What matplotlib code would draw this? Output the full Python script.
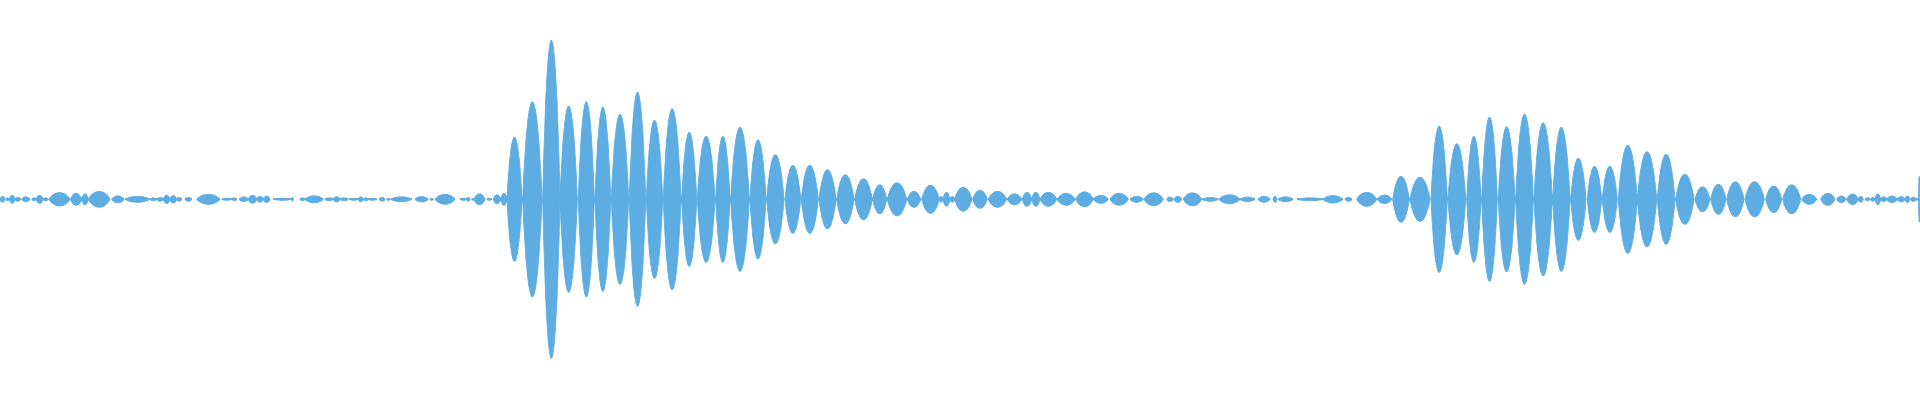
import matplotlib
matplotlib.use("Agg")
import matplotlib.pyplot as plt
from matplotlib.path import Path
from matplotlib.patches import PathPatch

# Waveform described as a sequence of lobes (start, end, peak amplitude)
lobe_start = [
    0, 6, 9.3, 15, 21.7, 31.7, 36, 43.3, 49, 70.5, 81.7, 88.3, 111.7, 125, 150,
    156.7, 163.3, 170, 176.7, 185, 196.7, 221.7, 232, 239.3, 248.3, 256.7, 263.3,
    273.3, 291.7, 300, 305, 325, 333.3, 340, 349.3, 358.3, 363.3, 368.3, 379.3,
    386.7, 390.7, 415, 430, 435, 460, 466.7, 471.7, 474, 486.7, 493.3, 500.7, 507,
    522.7, 542.7, 560, 578.3, 595, 611.3, 629.3, 646.3, 663.3, 681.7, 697.3, 715.7,
    730.7, 750, 766.7, 785, 801.3, 819, 836.7, 854.7, 872.7, 887.3, 907.3, 921.7,
    939.3, 943, 950, 954.5, 972.7, 988.3, 1007.3, 1022.3, 1031.7, 1040, 1057.3,
    1075.7, 1093.3, 1110, 1130, 1144, 1166.7, 1174, 1183.3, 1202.3, 1219, 1240,
    1258, 1273, 1278, 1297, 1323, 1345, 1356.7, 1377.3, 1392.7, 1410, 1431, 1448,
    1466.7, 1481.7, 1498.3, 1515.7, 1534, 1552.7, 1570.7, 1587.3, 1602.3, 1618.3,
    1637.3, 1657.3, 1675.7, 1695, 1710.7, 1726.7, 1745, 1765.7, 1782.7, 1801.7,
    1820.7, 1836.7, 1846.7, 1858.3, 1865, 1870.7, 1875, 1880.7, 1886.7, 1897.3,
    1905, 1910.7, 1916, 1918.5,
]
lobe_end = [
    5, 9, 15, 20.7, 30, 36, 43.3, 48.3, 70, 81.7, 88.3, 110, 124, 150, 156.7,
    163.3, 170, 176.7, 181.7, 191.7, 220, 231.7, 236.7, 248.3, 256.7, 263.3, 270,
    291.7, 293.3, 305, 323.3, 333.3, 340, 348.3, 358.3, 363.3, 368.3, 376.7, 385,
    390, 411.7, 428.3, 433.3, 455, 466.7, 470, 474, 485, 491.7, 500.7, 507, 522,
    542, 560, 577.3, 594.3, 610.7, 628.7, 645.7, 662.7, 681, 696.7, 715, 730,
    749.3, 766, 784, 800.7, 818.3, 836, 854, 872.3, 886.7, 906.7, 920.7, 939.3,
    943, 950, 954.5, 972, 987.3, 1006.7, 1021.7, 1031.7, 1040, 1056.7, 1075,
    1093.3, 1108.3, 1128.3, 1143.3, 1163.3, 1173.3, 1181.7, 1201.7, 1218.3, 1240, 1255,
    1270, 1277, 1293, 1323, 1343, 1352, 1376.7, 1391.7, 1409.3, 1430, 1447.3, 1465.7,
    1481, 1497.3, 1515, 1533.3, 1552.3, 1570, 1586, 1601.7, 1617.3, 1637.3,
    1656.7, 1675, 1694, 1710, 1726, 1744, 1764.3, 1781.7, 1800.7, 1816.7,
    1835, 1846, 1858.3, 1863.3, 1870, 1875, 1880.7, 1886.7, 1897.3, 1905,
    1910, 1916, 1918, 1920,
]
lobe_amp = [
    3, 1.5, 4, 2, 2.5, 1.5, 4, 1.5, 6.7, 6, 5.5, 8, 3.5, 3, 1.5,
    2, 4.3, 3.7, 2, 2, 5, 1, 1.5, 2.5, 4, 3, 3.3,
    1, 2, 1.5, 3.5, 1.5, 2.7, 1.5, 1, 2.5, 1.5, 1, 2,
    1, 2.5, 2.7, 1, 5, 1, 2, 1, 5.5, 1, 4.5, 6, 62,
    97.5, 159, 93, 97.5, 92, 85, 107, 79, 90.5, 67, 63, 63,
    72, 59.5, 44.5, 34, 34, 29.5, 24.5, 20.5, 14.5, 16.5, 8, 14,
    3, 7, 3, 12, 9, 8, 5.5, 7, 7, 7, 6,
    7.5, 4, 6, 3, 6.5, 2.3, 3, 6.5, 2, 4.5, 2.3,
    3, 3, 2.5, 1.5, 3.7, 2, 7, 4.3, 23, 22, 73, 55.5,
    63, 82, 72.5, 85, 76.5, 72, 41, 33, 33, 54,
    47.5, 45, 25, 12.5, 15, 17.5, 17.5, 13.3, 14.5, 5,
    6, 3.3, 5.3, 3, 1.5, 2, 5.3, 2.5, 3.3, 2.7,
    3.3, 2.3, 1, 23.5,
]

COLOR = "#5DADE2"

fig = plt.figure(figsize=(19.2, 4), dpi=100)
ax = fig.add_axes([0, 0, 1, 1])

verts, codes = [], []
k = 0.27
for x0, x1, a in zip(lobe_start, lobe_end, lobe_amp):
    d = x1 - x0
    h = a * 4.0 / 3.0
    verts += [(x0, 0), (x0 + k * d, h), (x1 - k * d, h), (x1, 0),
              (x1 - k * d, -h), (x0 + k * d, -h), (x0, 0), (x0, 0)]
    codes += [Path.MOVETO, Path.CURVE4, Path.CURVE4, Path.CURVE4,
              Path.CURVE4, Path.CURVE4, Path.CURVE4, Path.CLOSEPOLY]

patch = PathPatch(Path(verts, codes), facecolor=COLOR, edgecolor=COLOR,
                  linewidth=0.6)
ax.add_patch(patch)
# thin centre line under each lobe so touching lobes join up
ax.hlines([0] * len(lobe_start), lobe_start, lobe_end, colors=COLOR,
          linewidth=1.2)

ax.set_xlim(0, 1920)
ax.set_ylim(-200.7, 199.3)
ax.axis("off")

fig.savefig("out.png", dpi=100, facecolor="white")
